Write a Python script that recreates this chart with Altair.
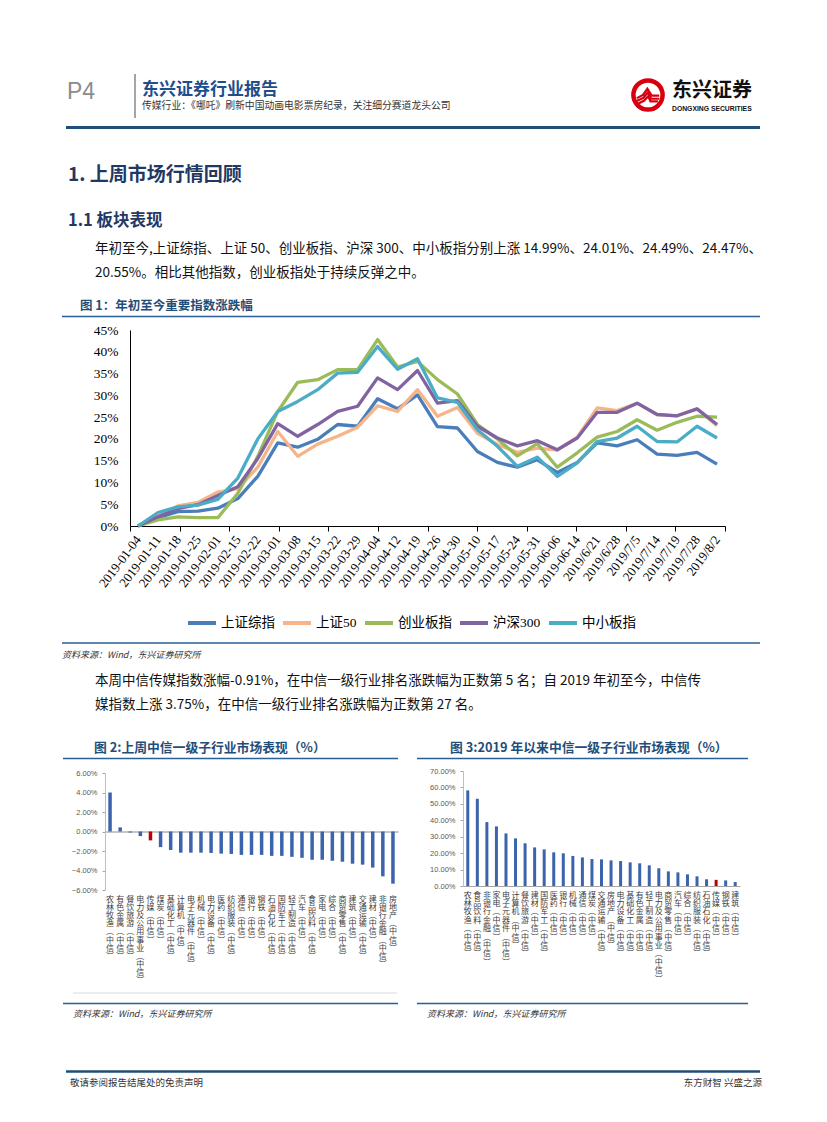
import altair as alt
import pandas as pd

# ---------------- data ----------------
dates = ["2019-01-04", "2019-01-11", "2019-01-18", "2019-01-25", "2019-02-01", "2019-02-15",
         "2019-02-22", "2019-03-01", "2019-03-08", "2019-03-15", "2019-03-22", "2019-03-29",
         "2019-04-04", "2019-04-12", "2019-04-19", "2019-04-26", "2019-04-30", "2019-05-10",
         "2019-05-17", "2019-05-24", "2019-05-31", "2019-06-06", "2019-06-14", "2019/6/21",
         "2019/6/28", "2019/7/5", "2019/7/14", "2019/7/19", "2019/7/28", "2019/8/2"]
index_names = ["上证综指", "上证50", "创业板指", "沪深300", "中小板指"]
index_colors = ["#4A7EBB", "#F6B48A", "#9BBB59", "#8064A2", "#4BACC6"]
sh_comp = [0, 1.9, 3.3, 3.4, 4.1, 6.3, 11.4, 19.1, 18.1, 19.9, 23.3, 22.9, 29.2, 26.9, 30.1,
           22.8, 22.5, 17.1, 14.6, 13.5, 15.2, 12.3, 14.6, 19.1, 18.4, 19.8, 16.5, 16.2, 16.9, 14.2]
sz50 = [0, 2.3, 4.6, 5.4, 7.8, 8.6, 13.5, 21.7, 16.0, 18.8, 20.6, 22.7, 27.6, 26.3, 31.3,
        25.2, 27.2, 21.3, 18.7, 16.9, 17.9, 17.4, 20.4, 27.1, 26.5, 28.2, 25.6, 25.3, 26.9, 23.0]
chinext = [0, 1.4, 2.1, 1.9, 1.9, 7.5, 16.0, 26.3, 33.0, 33.6, 35.9, 35.9, 42.8, 36.5, 37.8,
           33.6, 30.3, 23.3, 20.0, 16.1, 18.9, 13.5, 16.8, 20.4, 21.7, 24.4, 22.0, 23.8, 25.2, 25.0]
hs300 = [0, 2.1, 4.0, 4.9, 7.0, 9.0, 15.5, 23.5, 20.6, 23.3, 26.3, 27.5, 34.0, 31.3, 35.7,
         28.2, 28.8, 22.9, 20.2, 18.4, 19.6, 17.5, 20.2, 26.1, 26.1, 28.2, 25.6, 25.3, 26.9, 23.3]
sme = [0, 3.1, 4.4, 4.8, 6.1, 11.0, 20.0, 26.3, 28.6, 31.3, 35.1, 35.3, 41.2, 36.0, 38.4,
       29.4, 28.4, 22.1, 18.3, 13.7, 15.8, 11.4, 14.5, 19.4, 20.2, 22.9, 19.4, 19.3, 22.9, 20.2]
line_y_ticks = [0, 5, 10, 15, 20, 25, 30, 35, 40, 45]
line_minor_ticks = list(range(13))

week_names = ["农林牧渔(中信)", "有色金属(中信)", "餐饮旅游(中信)", "电力及公用事业(中信)", "传媒(中信)",
              "煤炭(中信)", "基础化工(中信)", "计算机(中信)", "电子元器件(中信)", "机械(中信)",
              "电力设备(中信)", "医药(中信)", "纺织服装(中信)", "通信(中信)", "银行(中信)",
              "钢铁(中信)", "石油石化(中信)", "国防军工(中信)", "轻工制造(中信)", "汽车(中信)",
              "食品饮料(中信)", "家电(中信)", "综合(中信)", "商贸零售(中信)", "建筑(中信)",
              "交通运输(中信)", "建材(中信)", "非银行金融(中信)", "房地产(中信)"]
week_values = [4.0, 0.42, -0.1, -0.47, -0.91, -1.6, -1.9, -2.17, -2.17, -2.17, -2.2, -2.27,
               -2.3, -2.4, -2.4, -2.4, -2.5, -2.5, -2.6, -2.7, -2.9, -2.9, -3.0, -3.1, -3.3,
               -3.4, -3.7, -4.6, -5.35]
week_y_ticks = [-6, -4, -2, 0, 2, 4, 6]

ytd_names = ["农林牧渔(中信)", "食品饮料(中信)", "非银行金融(中信)", "家电(中信)", "电子元器件(中信)",
             "计算机(中信)", "餐饮旅游(中信)", "建材(中信)", "国防军工(中信)", "医药(中信)",
             "银行(中信)", "机械(中信)", "通信(中信)", "煤炭(中信)", "交通运输(中信)",
             "房地产(中信)", "电力设备(中信)", "基础化工(中信)", "有色金属(中信)", "轻工制造(中信)",
             "电力及公用事业(中信)", "商贸零售(中信)", "汽车(中信)", "综合(中信)", "纺织服装(中信)",
             "石油石化(中信)", "传媒(中信)", "钢铁(中信)", "建筑(中信)"]
ytd_values = [58.2, 53.1, 38.9, 36.3, 32.0, 29.0, 26.0, 23.5, 22.3, 20.5, 19.9, 18.3, 17.4,
              16.4, 16.2, 15.6, 15.2, 14.4, 13.8, 12.6, 10.8, 8.9, 8.3, 7.1, 5.9, 4.1, 3.75,
              3.4, 2.4]
ytd_y_ticks = [0, 10, 20, 30, 40, 50, 60, 70]
highlight = "传媒(中信)"

page_no = "P4"
header_title = "东兴证券行业报告"
header_sub = "传媒行业：《哪吒》刷新中国动画电影票房纪录，关注细分赛道龙头公司"
logo_cn = "东兴证券"
logo_en = "DONGXING SECURITIES"
h1 = "1. 上周市场行情回顾"
h2 = "1.1 板块表现"
para1 = ["年初至今,上证综指、上证 50、创业板指、沪深 300、中小板指分别上涨 14.99%、24.01%、24.49%、24.47%、",
         "20.55%。相比其他指数，创业板指处于持续反弹之中。"]
fig1_title = "图 1：年初至今重要指数涨跌幅"
source_text = "资料来源：Wind，东兴证券研究所"
para2 = ["本周中信传媒指数涨幅-0.91%，在中信一级行业排名涨跌幅为正数第 5 名；自 2019 年初至今，中信传",
         "媒指数上涨 3.75%，在中信一级行业排名涨跌幅为正数第 27 名。"]
fig2_title = "图 2:上周中信一级子行业市场表现（%）"
fig3_title = "图 3:2019 年以来中信一级子行业市场表现（%）"
footer_left = "敬请参阅报告结尾处的免责声明"
footer_right = "东方财智 兴盛之源"

# ---------------- layout helpers ----------------
W, H = 811, 1100
CJK = "Noto Sans CJK SC"
SERIF = "'Liberation Serif', 'Noto Sans CJK SC'"
SANS = "'Liberation Sans', 'Noto Sans CJK SC'"
NAVY = "#1F3864"
BLUE = "#1F4E79"
LINE_BLUE = "#2A5E94"
BAR_BLUE = "#3B64AD"
RED = "#C00000"


def P(v):
    return v - 8


def text_layer(s, x, y, size, color="#000000", weight="normal", font=CJK,
               align="left", baseline="middle", style="normal"):
    return alt.Chart(pd.DataFrame({"t": [s]})).mark_text(
        align=align, baseline=baseline, fontSize=size, font=font, color=color,
        fontWeight=weight, fontStyle=style
    ).encode(x=alt.value(P(x)), y=alt.value(P(y)), text="t:N")


def hline(x1, x2, y, color, width):
    return alt.Chart(pd.DataFrame({"a": [0]})).mark_rule(color=color, strokeWidth=width).encode(
        x=alt.value(P(x1)), x2=alt.value(P(x2)), y=alt.value(P(y)))


def vline(x, y1, y2, color, width):
    return alt.Chart(pd.DataFrame({"a": [0]})).mark_rule(color=color, strokeWidth=width).encode(
        x=alt.value(P(x)), y=alt.value(P(y1)), y2=alt.value(P(y2)))


layers = []

# ---------------- header ----------------
layers.append(text_layer(page_no, 67, 89, 23, color="#8C8C8C", font="'Liberation Sans'"))
layers.append(vline(135, 71, 115, "#A6A6A6", 2))
layers.append(text_layer(header_title, 142, 87, 17, color="#1F4E8C", weight="bold"))
layers.append(text_layer(header_sub, 142, 103, 9.8, color="#333333"))
logo_path = ("M-0.9,0.25 L-0.4,0.0 L-0.05,-0.5 L0.3,0.05 L0.9,0.05 "
             "M-0.9,0.48 L-0.35,0.22 L-0.02,-0.2 L0.25,0.3 L0.9,0.3 "
             "M-0.8,0.7 L-0.3,0.45 L0.02,0.1 L0.2,0.52 L0.8,0.52")
layers.append(alt.Chart(pd.DataFrame({"a": [0]})).mark_point(
    shape="circle", size=850, filled=False, stroke="#D7000F", strokeWidth=4.5, opacity=1
).encode(x=alt.value(P(648)), y=alt.value(P(92))))
layers.append(alt.Chart(pd.DataFrame({"a": [0]})).mark_point(
    shape=logo_path, size=620, filled=False, stroke="#D7000F", strokeWidth=2.2, opacity=1
).encode(x=alt.value(P(648)), y=alt.value(P(92))))
layers.append(text_layer(logo_cn, 672, 88, 20, color="#111111", weight="bold"))
layers.append(text_layer(logo_en, 672, 105.5, 6.8, color="#111111", weight="bold",
                         font="'Liberation Sans'"))
layers.append(hline(66, 760, 124.5, BLUE, 3.2))

# ---------------- section text ----------------
layers.append(text_layer(h1, 68, 172, 19, color=NAVY, weight="bold"))
layers.append(text_layer(h2, 68, 218, 16.5, color=NAVY, weight="bold"))
layers.append(text_layer(para1[0], 95, 246, 13.5, color="#111111"))
layers.append(text_layer(para1[1], 95, 270, 13.5, color="#111111"))
layers.append(text_layer(fig1_title, 80, 303, 12.5, color=BLUE, weight="bold"))
layers.append(hline(62, 760, 313.5, LINE_BLUE, 1.5))

# ---------------- figure 1: line chart ----------------
series = [sh_comp, sz50, chinext, hs300, sme]
line_df = pd.DataFrame([
    {"date": d, "series": n, "value": v}
    for n, vals in zip(index_names, series) for d, v in zip(dates, vals)
])
X0, X1 = P(130), P(725)
Y0, Y1 = P(523), P(327)

line_layer = alt.Chart(line_df).mark_line(strokeWidth=3.3, strokeJoin="round").encode(
    x=alt.X("date:N", sort=dates,
            scale=alt.Scale(type="point", domain=dates, range=[X0, X1], padding=0.4),
            axis=alt.Axis(orient="bottom", offset=Y0 - H, title=None, labelAngle=-53,
                          labelAlign="right", labelBaseline="middle", labelFont=SERIF,
                          labelFontSize=13, labelColor="#000000", ticks=False, tickSize=0,
                          labelPadding=11, domainColor="#000000", domainWidth=1,
                          labelOverlap=False, grid=False)),
    y=alt.Y("value:Q",
            scale=alt.Scale(domain=[0, 45], range=[Y0, Y1], nice=False, zero=False),
            axis=alt.Axis(orient="left", offset=-X0, values=line_y_ticks, title=None,
                          labelExpr="datum.value + '%'", labelFont=SERIF, labelFontSize=13.5,
                          labelColor="#000000", ticks=False, tickSize=0, labelPadding=12,
                          domainColor="#000000", domainWidth=1, grid=False,
                          labelOverlap=False, labelFlush=False)),
    color=alt.Color("series:N",
                    scale=alt.Scale(domain=index_names, range=index_colors),
                    legend=alt.Legend(orient="none", legendX=P(186), legendY=P(604),
                                      direction="horizontal", title=None,
                                      symbolType="stroke", symbolSize=784,
                                      symbolStrokeWidth=4, labelFont=SERIF,
                                      labelFontSize=13.5, labelOffset=3, columnPadding=0,
                                      labelColor="#000000", padding=0)),
)
layers.append(line_layer)

tick_layer = alt.Chart(pd.DataFrame({"t": line_minor_ticks})).mark_point(opacity=0).encode(
    x=alt.X("t:Q", scale=alt.Scale(domain=[0, 12], range=[X0, X1], nice=False, zero=False),
            axis=alt.Axis(orient="bottom", offset=Y0 - H, values=line_minor_ticks, labels=False,
                          domain=False, ticks=True, tickSize=5, tickColor="#000000",
                          tickWidth=1, title=None, grid=False)),
    y=alt.value(0),
)
layers.append(tick_layer)

layers.append(hline(62, 760, 640, LINE_BLUE, 1.5))
layers.append(text_layer(source_text, 62, 652, 9, color="#333333", style="italic"))
layers.append(text_layer(para2[0], 95, 678, 13.5, color="#111111"))
layers.append(text_layer(para2[1], 95, 702, 13.5, color="#111111"))

# ---------------- figure 2 & 3 titles / frames ----------------
layers.append(text_layer(fig2_title, 94, 745, 12.8, color=BLUE, weight="bold"))
layers.append(text_layer(fig3_title, 450, 745, 12.8, color=BLUE, weight="bold"))
layers.append(hline(63, 398, 755.5, LINE_BLUE, 1.5))
layers.append(hline(417, 748, 755.5, LINE_BLUE, 1.5))
layers.append(hline(73, 397, 990, "#D9D9D9", 1))
layers.append(hline(63, 398, 1000.5, LINE_BLUE, 1.5))
layers.append(hline(417, 748, 1000.5, LINE_BLUE, 1.5))
layers.append(text_layer(source_text, 73, 1011, 9, color="#333333", style="italic"))
layers.append(text_layer(source_text, 427, 1011, 9, color="#333333", style="italic"))

VERT = "split(replace(replace(datum.label, '(', '︵'), ')', '︶'), '')"


def bar_color():
    return alt.condition(alt.datum.name == highlight, alt.value(RED), alt.value(BAR_BLUE))


# ---------------- figure 2: weekly bars ----------------
A0, A1 = P(105), P(398)
B0, B1 = P(887), P(770)
week_df = pd.DataFrame({"name": week_names, "v": week_values})
week_x_scale = alt.Scale(domain=week_names, range=[A0, A1], paddingInner=0, paddingOuter=0)
week_y_scale = alt.Scale(domain=[-6, 6], range=[B0, B1], nice=False, zero=False)
zero_y = B0 + (B1 - B0) * 0.5

week_bars = alt.Chart(week_df).mark_bar(size=3.5).encode(
    x=alt.X("name:N", sort=week_names, scale=week_x_scale,
            axis=alt.Axis(orient="bottom", offset=B0 - H, title=None, labelExpr=VERT,
                          labelFont=CJK, labelFontSize=8, labelLineHeight=8.2, labelAngle=0,
                          labelAlign="center", labelBaseline="top", labelColor="#404040",
                          labelPadding=5, ticks=False, tickSize=0, domain=False,
                          labelOverlap=False, grid=False)),
    y=alt.Y("v:Q", scale=week_y_scale,
            axis=alt.Axis(orient="left", offset=-A0, values=week_y_ticks, title=None,
                          labelExpr="format(datum.value, '.2f') + '%'", labelFont=SANS,
                          labelFontSize=7.5, labelColor="#595959", ticks=True, tickSize=3,
                          tickColor="#A6A6A6", domainColor="#BFBFBF", labelPadding=5,
                          grid=False, labelOverlap=False, labelFlush=False)),
    y2=alt.datum(0),
    color=bar_color(),
)
layers.append(week_bars)

week_zero_axis = alt.Chart(week_df).mark_point(opacity=0).encode(
    x=alt.X("name:N", sort=week_names, scale=week_x_scale,
            axis=alt.Axis(orient="bottom", offset=zero_y - H, title=None, labels=False,
                          ticks=False, tickSize=0, domain=True, domainColor="#8C8C8C",
                          grid=False)),
    y=alt.value(0),
)
layers.append(week_zero_axis)

# ---------------- figure 3: YTD bars ----------------
C0, C1 = P(463), P(740)
D0, D1 = P(883), P(768)
ytd_df = pd.DataFrame({"name": ytd_names, "v": ytd_values})
ytd_bars = alt.Chart(ytd_df).mark_bar(size=3).encode(
    x=alt.X("name:N", sort=ytd_names,
            scale=alt.Scale(domain=ytd_names, range=[C0, C1], paddingInner=0, paddingOuter=0),
            axis=alt.Axis(orient="bottom", offset=D0 - H, title=None, labelExpr=VERT,
                          labelFont=CJK, labelFontSize=8, labelLineHeight=8.4, labelAngle=0,
                          labelAlign="center", labelBaseline="top", labelColor="#404040",
                          labelPadding=5, ticks=False, tickSize=0, domain=True,
                          domainColor="#A6A6A6", labelOverlap=False, grid=False)),
    y=alt.Y("v:Q", scale=alt.Scale(domain=[0, 70], range=[D0, D1], nice=False, zero=False),
            axis=alt.Axis(orient="left", offset=-C0, values=ytd_y_ticks, title=None,
                          labelExpr="format(datum.value, '.2f') + '%'", labelFont=SANS,
                          labelFontSize=7.5, labelColor="#595959", ticks=True, tickSize=3,
                          tickColor="#A6A6A6", domainColor="#BFBFBF", labelPadding=5,
                          grid=False, labelOverlap=False, labelFlush=False)),
    y2=alt.datum(0),
    color=bar_color(),
)
layers.append(ytd_bars)

# ---------------- footer ----------------
layers.append(hline(66, 760, 1068.5, BLUE, 2.6))
layers.append(text_layer(footer_left, 70, 1080, 9.5, color="#333333"))
layers.append(text_layer(footer_right, 762, 1080, 9.5, color="#333333", align="right"))

chart = alt.layer(*layers).resolve_scale(
    x="independent", y="independent", color="independent"
).resolve_axis(
    x="independent", y="independent"
).resolve_legend(
    color="independent"
).properties(
    width=W, height=H, padding=0, background="white"
).configure_view(stroke=None).configure_axis(grid=False)

chart.save("out.html", embed_options={"renderer": "svg", "actions": False})
